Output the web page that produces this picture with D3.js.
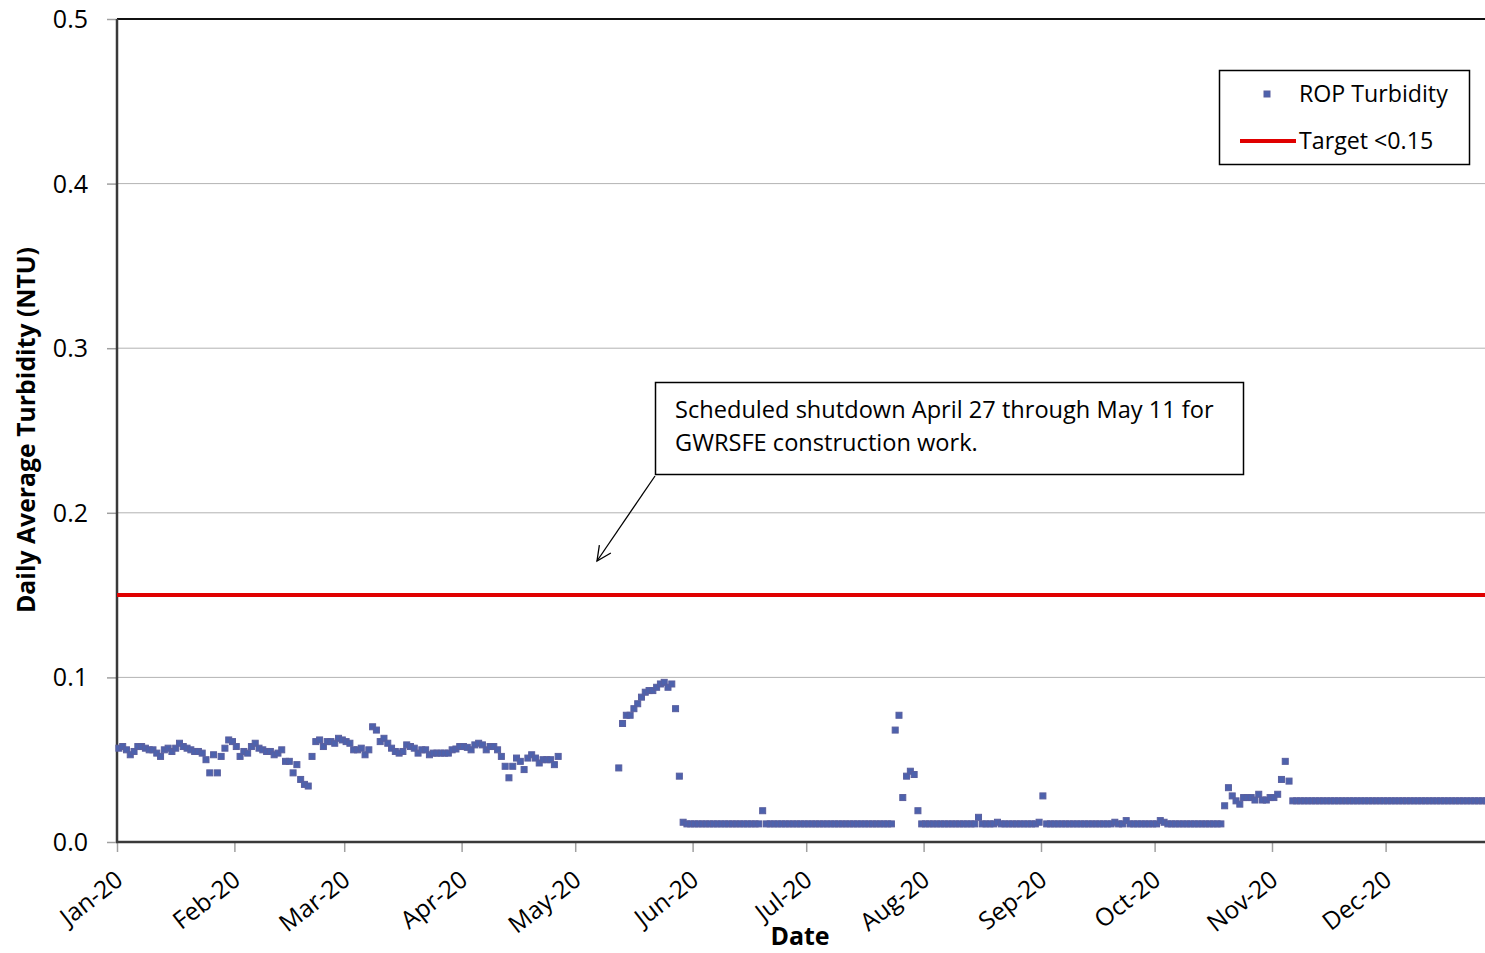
<!DOCTYPE html>
<html>
<head>
<meta charset="utf-8">
<script src="https://cdn.jsdelivr.net/npm/d3@7"></script>
<style>
  html, body { margin: 0; padding: 0; background: #fff; }
  svg { display: block; font-family: "Open Sans", sans-serif; }
</style>
</head>
<body>
<svg id="chart" width="1485" height="953"></svg>
<script>
// ---- Data (daily average turbidity, NTU), 2020 ----
const startDate = "2020-01-01";
const jan = [0.057,0.058,0.056,0.053,0.055,0.058,0.058,0.057,0.056,0.056,
             0.054,0.052,0.056,0.057,0.055,0.057,0.060,0.058,0.057,0.056,
             0.055,0.055,0.054,0.050,0.042,0.053,0.042,0.052,0.057,0.062,0.061];
const feb = [0.058,0.052,0.055,0.054,0.058,0.060,0.057,0.056,0.055,0.055,
             0.053,0.054,0.056,0.049,0.049,0.042,0.047,0.038,0.035,0.034,
             0.052,0.061,0.062,0.058,0.061,0.061,0.060,0.063,0.062];
const mar = [0.061,0.060,0.056,0.056,0.057,0.053,0.056,0.070,0.068,0.061,
             0.063,0.060,0.057,0.055,0.054,0.055,0.059,0.058,0.057,0.054,
             0.056,0.056,0.053,0.054,0.054,0.054,0.054,0.054,0.056,0.0565,0.058];
const apr = [0.058,0.0575,0.056,0.059,0.060,0.059,0.056,0.058,0.058,0.056,
             0.052,0.046,0.039,0.046,0.051,0.049,0.044,0.051,0.053,0.051,
             0.048,0.050,0.050,0.050,0.047,0.052,null,null,null,null];
const may = [null,null,null,null,null,null,null,null,null,null,
             null,0.045,0.072,0.077,0.077,0.081,0.084,0.088,0.091,0.092,
             0.092,0.094,0.096,0.097,0.094,0.096,0.081,0.040,0.012,0.011,0.011];
const jun = [0.011,0.011,0.011,0.011,0.011,0.011,0.011,0.011,0.011,0.011,
             0.011,0.011,0.011,0.011,0.011,0.011,0.011,0.011,0.019,0.011,
             0.011,0.011,0.011,0.011,0.011,0.011,0.011,0.011,0.011,0.011];
const jul = [0.011,0.011,0.011,0.011,0.011,0.011,0.011,0.011,0.011,0.011,
             0.011,0.011,0.011,0.011,0.011,0.011,0.011,0.011,0.011,0.011,
             0.011,0.011,0.011,0.068,0.077,0.027,0.040,0.043,0.041,0.019,0.011];
const aug = [0.011,0.011,0.011,0.011,0.011,0.011,0.011,0.011,0.011,0.011,
             0.011,0.011,0.011,0.011,0.015,0.011,0.011,0.011,0.011,0.012,
             0.011,0.011,0.011,0.011,0.011,0.011,0.011,0.011,0.011,0.011,0.012];
const sep = [0.028,0.011,0.011,0.011,0.011,0.011,0.011,0.011,0.011,0.011,
             0.011,0.011,0.011,0.011,0.011,0.011,0.011,0.011,0.011,0.012,
             0.011,0.011,0.013,0.011,0.011,0.011,0.011,0.011,0.011,0.011];
const oct = [0.011,0.013,0.012,0.011,0.011,0.011,0.011,0.011,0.011,0.011,
             0.011,0.011,0.011,0.011,0.011,0.011,0.011,0.011,0.022,0.033,
             0.028,0.025,0.023,0.027,0.027,0.027,0.0255,0.029,0.0255,0.0255,0.027];
const nov = [0.027,0.029,0.038,0.049,0.037,0.025,0.025,0.025,0.025,0.025,
             0.025,0.025,0.025,0.025,0.025,0.025,0.025,0.025,0.025,0.025,
             0.025,0.025,0.025,0.025,0.025,0.025,0.025,0.025,0.025,0.025];
const dec = [0.025,0.025,0.025,0.025,0.025,0.025,0.025,0.025,0.025,0.025,
             0.025,0.025,0.025,0.025,0.025,0.025,0.025,0.025,0.025,0.025,
             0.025,0.025,0.025,0.025,0.025,0.025,0.025,0.025,0.025,0.025,0.025];
const targetValue = 0.15;
const yTicks = [0.0, 0.1, 0.2, 0.3, 0.4, 0.5];
const monthLabels = ["Jan-20","Feb-20","Mar-20","Apr-20","May-20","Jun-20",
                     "Jul-20","Aug-20","Sep-20","Oct-20","Nov-20","Dec-20"];
const seriesName = "ROP Turbidity";
const targetName = "Target <0.15";
const annotationLines = ["Scheduled shutdown April 27 through May 11 for",
                         "GWRSFE construction work."];

(function () {
const FONT = "'Open Sans', sans-serif";
const values = [].concat(jan, feb, mar, apr, may, jun, jul, aug, sep, oct, nov, dec);
const t0 = d3.timeParse("%Y-%m-%d")(startDate);
const points = values.map((v, i) => ({ date: d3.timeHour.offset(d3.timeDay.offset(t0, i), 12), v }))
                     .filter(d => d.v !== null);

const svg = d3.select("#chart");
const pLeft = 117, pTop = 19, pBottom = 842, pRight = 1503;

const x = d3.scaleTime().domain([t0, d3.timeYear.offset(t0, 1)]).range([pLeft, pRight]);
const y = d3.scaleLinear().domain([0, 0.5]).range([pBottom, pTop]);

svg.append("rect").attr("width", 1485).attr("height", 953).attr("fill", "#fff");

// gridlines
svg.append("g").selectAll("line").data(yTicks.filter(t => t > 0 && t < 0.5)).join("line")
  .attr("x1", pLeft).attr("x2", pRight).attr("y1", d => y(d)).attr("y2", d => y(d))
  .attr("stroke", "#b3b3b3").attr("stroke-width", 1);

// top border
svg.append("line").attr("x1", pLeft).attr("x2", pRight).attr("y1", y(0.5)).attr("y2", y(0.5))
  .attr("stroke", "#111").attr("stroke-width", 2);

// y axis
const yAxis = d3.axisLeft(y).tickValues(yTicks).tickFormat(d3.format(".1f")).tickSize(10).tickPadding(19);
const gy = svg.append("g").attr("transform", `translate(${pLeft},0)`).call(yAxis);
gy.select(".domain").remove();
gy.selectAll(".tick line").attr("stroke", "#a0a0a0").attr("stroke-width", 1.5);
gy.selectAll(".tick text").attr("font-size", 25).attr("fill", "#000").attr("font-family", FONT).attr("dy", "0.34em");

// x axis
const monthStarts = d3.timeMonth.range(t0, d3.timeYear.offset(t0, 1));
const xAxis = d3.axisBottom(x).tickValues(monthStarts).tickFormat((d, i) => monthLabels[i]).tickSize(10).tickPadding(0);
const gx = svg.append("g").attr("transform", `translate(0,${pBottom})`).call(xAxis);
gx.select(".domain").remove();
gx.selectAll(".tick line").attr("stroke", "#a0a0a0").attr("stroke-width", 1.5);
gx.selectAll(".tick text")
  .attr("font-size", 24.5).attr("fill", "#000").attr("font-family", FONT)
  .attr("text-anchor", "end").attr("dy", 0)
  .attr("transform", "translate(1,33) rotate(-38)");

// axis lines
svg.append("line").attr("x1", pLeft).attr("x2", pLeft).attr("y1", pTop).attr("y2", pBottom)
  .attr("stroke", "#3a3a3a").attr("stroke-width", 2.5);
svg.append("line").attr("x1", pLeft - 1).attr("x2", pRight).attr("y1", pBottom).attr("y2", pBottom)
  .attr("stroke", "#3a3a3a").attr("stroke-width", 2.5);

// target line
svg.append("line").attr("x1", pLeft).attr("x2", pRight)
  .attr("y1", y(targetValue)).attr("y2", y(targetValue))
  .attr("stroke", "#e00000").attr("stroke-width", 4);

// points
const ms = 6;
svg.append("g").selectAll("rect").data(points).join("rect")
  .attr("x", d => x(d.date) - ms / 2).attr("y", d => y(d.v) - ms / 2)
  .attr("width", ms).attr("height", ms)
  .attr("fill", "#4d62ad").attr("stroke", "#5a5f9f").attr("stroke-width", 1);

// axis titles
svg.append("text").attr("transform", "translate(35,430) rotate(-90)")
  .attr("text-anchor", "middle").attr("font-weight", "bold").attr("font-size", 24.8)
  .attr("font-family", FONT).attr("fill", "#000").text("Daily Average Turbidity (NTU)");
svg.append("text").attr("x", 800).attr("y", 945).attr("text-anchor", "middle")
  .attr("font-weight", "bold").attr("font-size", 25).attr("font-family", FONT)
  .attr("fill", "#000").text("Date");

// annotation
svg.append("rect").attr("x", 655.5).attr("y", 382.5).attr("width", 588).attr("height", 92)
  .attr("fill", "#fff").attr("stroke", "#000").attr("stroke-width", 1.5);
svg.append("g").selectAll("text").data(annotationLines).join("text")
  .attr("x", 675).attr("y", (d, i) => 418 + i * 33)
  .attr("font-size", 23.6).attr("font-family", FONT).attr("fill", "#000").text(d => d);
// arrow
const ax1 = 655, ay1 = 476, ax2 = 597, ay2 = 561;
svg.append("line").attr("x1", ax1).attr("y1", ay1).attr("x2", ax2).attr("y2", ay2)
  .attr("stroke", "#000").attr("stroke-width", 1.3);
const ang = Math.atan2(ay2 - ay1, ax2 - ax1);
const hl = 16, hw = 0.45;
svg.append("path")
  .attr("d", `M${ax2 - hl * Math.cos(ang - hw)},${ay2 - hl * Math.sin(ang - hw)} L${ax2},${ay2} L${ax2 - hl * Math.cos(ang + hw)},${ay2 - hl * Math.sin(ang + hw)}`)
  .attr("fill", "none").attr("stroke", "#000").attr("stroke-width", 1.3);

// legend
const lg = svg.append("g");
lg.append("rect").attr("x", 1219.5).attr("y", 70.5).attr("width", 250).attr("height", 94)
  .attr("fill", "#fff").attr("stroke", "#000").attr("stroke-width", 1.5);
lg.append("rect").attr("x", 1264).attr("y", 91).attr("width", ms).attr("height", ms)
  .attr("fill", "#4d62ad").attr("stroke", "#5a5f9f").attr("stroke-width", 1);
lg.append("text").attr("x", 1299).attr("y", 102).attr("font-size", 23.2).attr("font-family", FONT)
  .attr("fill", "#000").text(seriesName);
lg.append("line").attr("x1", 1240).attr("x2", 1296).attr("y1", 141).attr("y2", 141)
  .attr("stroke", "#e00000").attr("stroke-width", 4);
lg.append("text").attr("x", 1299).attr("y", 149).attr("font-size", 23.2).attr("font-family", FONT)
  .attr("fill", "#000").text(targetName);
})();
</script>
</body>
</html>
